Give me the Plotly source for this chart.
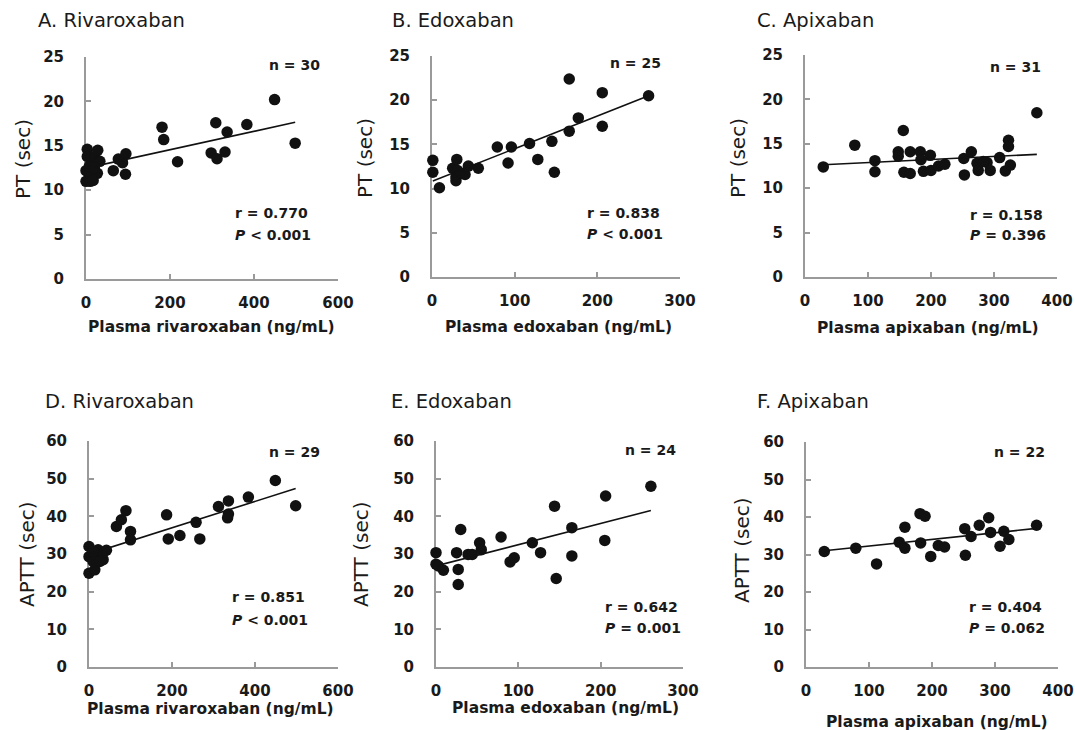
import numpy as np
import plotly.graph_objects as go

W, H = 1075, 730
FONT = "DejaVu Sans"

# ---------------- data ----------------
# A. Rivaroxaban - PT
riv_pt_x = [0, 0, 3, 10, 10, 13, 3, 21, 28, 33, 27, 17, 8, 20,
            65, 77, 87, 95, 94, 181, 185, 218, 298, 312, 309, 331, 336, 383, 449, 498]
riv_pt_y = [11.0, 12.2, 14.6, 11.0, 11.9, 13.1, 13.8, 13.8, 14.5, 13.25, 11.9, 11.1, 12.7, 12.5,
            12.2, 13.5, 13.1, 14.1, 11.8, 17.1, 15.7, 13.2, 14.2, 13.55, 17.6, 14.3, 16.55, 17.4, 20.2, 15.3]

# B. Edoxaban - PT
edo_pt_x = [1, 1, 9, 25, 30, 29, 29, 36, 40, 44, 56, 79, 92, 96, 118, 128, 145, 148,
            166, 166, 177, 206, 206, 262, 31]
edo_pt_y = [13.2, 11.85, 10.1, 12.3, 13.3, 11.3, 10.9, 11.7, 11.6, 12.55, 12.3, 14.7, 12.9, 14.7,
            15.1, 13.3, 15.35, 11.85, 16.5, 22.4, 18.0, 17.05, 20.85, 20.5, 12.05]

# C. Apixaban - PT
api_pt_x = [29, 79, 111, 111, 156, 148, 148, 157, 167, 167, 183, 184, 199, 188, 200, 212,
            222, 252, 253, 264, 273, 275, 289, 294, 309, 318, 323, 323, 326, 368, 283]
api_pt_y = [12.4, 14.85, 13.1, 11.85, 16.5, 14.1, 13.6, 11.8, 11.65, 14.1, 14.1, 13.2, 13.7, 11.9,
            12.0, 12.5, 12.7, 13.35, 11.5, 14.1, 12.8, 12.0, 12.9, 12.0, 13.45, 11.95, 15.4, 14.7,
            12.6, 18.5, 13.0]

# D. Rivaroxaban - APTT
riv_aptt_x = [0, 0, 0, 14, 10, 18, 22, 34, 34, 10, 26, 42, 66, 78, 89, 100, 100,
              187, 191, 219, 258, 267, 312, 336, 334, 336, 384, 449, 498]
riv_aptt_y = [24.9, 29.3, 32.0, 25.8, 28.0, 29.8, 31.1, 28.5, 30.4, 30.7, 28.0, 31.0, 37.3, 39.1, 41.5,
              36.0, 33.75, 40.4, 34.0, 34.9, 38.4, 34.0, 42.6, 44.1, 39.6, 40.6, 45.1, 49.5, 42.8]

# E. Edoxaban - APTT
edo_aptt_x = [0, 0, 3, 9, 25, 27, 27, 30, 39, 44, 53, 55, 79, 90, 95, 117, 127,
              144, 146, 165, 165, 206, 205, 261]
edo_aptt_y = [30.35, 27.3, 26.8, 25.7, 30.35, 25.9, 21.9, 36.5, 29.9, 29.9, 33.0, 31.15, 34.5, 27.9,
              29.0, 33.0, 30.35, 42.7, 23.5, 37.0, 29.5, 45.4, 33.6, 48.0]

# F. Apixaban - APTT
api_aptt_x = [29, 79, 112, 148, 157, 157, 181, 189, 182, 198, 210, 220, 252, 253, 262,
              275, 290, 293, 308, 314, 322, 366]
api_aptt_y = [30.8, 31.7, 27.5, 33.3, 37.3, 31.7, 40.9, 40.2, 33.1, 29.5, 32.4, 32.0, 36.9, 29.8,
              34.8, 37.8, 39.8, 35.9, 32.2, 36.2, 34.0, 37.8]

panel_titles = ["A. Rivaroxaban", "B. Edoxaban", "C. Apixaban",
                "D. Rivaroxaban", "E. Edoxaban", "F. Apixaban"]
x_titles = ["Plasma rivaroxaban (ng/mL)", "Plasma edoxaban (ng/mL)", "Plasma apixaban (ng/mL)",
            "Plasma rivaroxaban (ng/mL)", "Plasma edoxaban (ng/mL)", "Plasma apixaban (ng/mL)"]
y_titles = ["PT (sec)", "PT (sec)", "PT (sec)", "APTT (sec)", "APTT (sec)", "APTT (sec)"]
n_labels = ["n = 30", "n = 25", "n = 31", "n = 29", "n = 24", "n = 22"]
r_labels = ["r = 0.770", "r = 0.838", "r = 0.158", "r = 0.851", "r = 0.642", "r = 0.404"]
p_labels = ["<i>P</i> &lt; 0.001", "<i>P</i> &lt; 0.001", "<i>P</i> = 0.396",
            "<i>P</i> &lt; 0.001", "<i>P</i> = 0.001", "<i>P</i> = 0.062"]
x_max = [600, 300, 400, 600, 300, 400]
x_step = [200, 100, 100, 200, 100, 100]
y_max = [25, 25, 25, 60, 60, 60]
y_step = [5, 5, 5, 10, 10, 10]

series = [(riv_pt_x, riv_pt_y), (edo_pt_x, edo_pt_y), (api_pt_x, api_pt_y),
          (riv_aptt_x, riv_aptt_y), (edo_aptt_x, edo_aptt_y), (api_aptt_x, api_aptt_y)]

# ---------------- layout geometry (pixels) ----------------
# plot box: left, right, top, bottom
boxes = [(86, 338, 57, 279), (432, 680, 56, 277), (805, 1057, 55, 277),
         (89, 338, 441, 667), (436, 683, 441, 667), (806, 1058, 442, 667)]
title_pos = [(36, 20), (390, 20), (755, 20), (43, 402), (389, 402), (755, 401)]
ytitle_pos = [(23, 159), (365, 158), (738, 158), (27, 554), (361, 554), (742, 550)]
xtitle_pos = [(211, 327), (558, 327), (928, 328), (210, 709), (565, 708), (937, 722)]
n_pos = [(322, 65), (663, 63), (1043, 67), (322, 452), (678, 450), (1047, 452)]
rp_pos = [(233, 213, 235), (585, 213, 234), (968, 215, 235),
          (230, 597, 620), (603, 607, 628), (967, 607, 628)]

def px(x):
    return x / W

def py(y):
    return 1 - y / H

AXCOL = "#9a9a9a"
TXT = "#1a1a1a"

fig = go.Figure()
annotations = []
for i in range(6):
    k = "" if i == 0 else str(i + 1)
    xs, ys = series[i]
    fig.add_trace(go.Scatter(
        x=xs, y=ys, mode="markers", xaxis="x" + k, yaxis="y" + k,
        marker=dict(size=11.5, color="#111111", line=dict(width=0)),
        cliponaxis=False, showlegend=False, hoverinfo="x+y"))
    # least-squares regression line computed from the data
    xa = np.array(xs, dtype=float)
    ya = np.array(ys, dtype=float)
    slope, icpt = np.polyfit(xa, ya, 1)
    lx = np.array([xa.min(), xa.max()])
    fig.add_trace(go.Scatter(
        x=lx, y=slope * lx + icpt, mode="lines", xaxis="x" + k, yaxis="y" + k,
        line=dict(color="#111111", width=1.6), cliponaxis=False,
        showlegend=False, hoverinfo="skip"))

    l, r, t, b = boxes[i]
    common = dict(showline=True, linecolor=AXCOL, linewidth=2, ticks="inside",
                  ticklen=5, tickwidth=2, tickcolor=AXCOL, showgrid=False,
                  zeroline=False, layer="below traces", automargin=False,
                  tickfont=dict(family=FONT, size=15, color=TXT, weight="bold"))
    fig.update_layout(**{
        "xaxis" + k: dict(domain=[px(l), px(r)], range=[0, x_max[i]],
                          tickmode="linear", tick0=0, dtick=x_step[i],
                          anchor="y" + k, ticklabelstandoff=9, **common),
        "yaxis" + k: dict(domain=[py(b), py(t)], range=[0, y_max[i]],
                          tickmode="linear", tick0=0, dtick=y_step[i],
                          anchor="x" + k, ticklabelstandoff=17, **common),
    })

    tx, ty = title_pos[i]
    annotations.append(dict(text=panel_titles[i], x=px(tx), y=py(ty), xref="paper", yref="paper",
                            xanchor="left", yanchor="middle", showarrow=False,
                            font=dict(family=FONT, size=19.5, color=TXT)))
    yx, yy = ytitle_pos[i]
    annotations.append(dict(text=y_titles[i], x=px(yx), y=py(yy), xref="paper", yref="paper",
                            xanchor="center", yanchor="middle", textangle=-90, showarrow=False,
                            font=dict(family=FONT, size=20, color=TXT)))
    xx, xy = xtitle_pos[i]
    annotations.append(dict(text=x_titles[i], x=px(xx), y=py(xy), xref="paper", yref="paper",
                            xanchor="center", yanchor="middle", showarrow=False,
                            font=dict(family=FONT, size=15.5, color=TXT, weight="bold")))
    nx, ny = n_pos[i]
    annotations.append(dict(text=n_labels[i], x=px(nx), y=py(ny), xref="paper", yref="paper",
                            xanchor="right", yanchor="middle", showarrow=False,
                            font=dict(family=FONT, size=14, color=TXT, weight="bold")))
    rx, ry, pyy = rp_pos[i]
    annotations.append(dict(text=r_labels[i], x=px(rx), y=py(ry), xref="paper", yref="paper",
                            xanchor="left", yanchor="middle", showarrow=False,
                            font=dict(family=FONT, size=14, color=TXT, weight="bold")))
    annotations.append(dict(text=p_labels[i], x=px(rx), y=py(pyy), xref="paper", yref="paper",
                            xanchor="left", yanchor="middle", showarrow=False,
                            font=dict(family=FONT, size=14, color=TXT, weight="bold")))

fig.update_layout(width=W, height=H, margin=dict(l=0, r=0, t=0, b=0),
                  paper_bgcolor="white", plot_bgcolor="white",
                  annotations=annotations, font=dict(family=FONT))

# remove the browser's default page margin so the 1075x730 figure fills the window
fig.write_html("out.html", config={"displayModeBar": False},
               post_script="document.body.style.margin='0';document.body.style.overflow='hidden';")
